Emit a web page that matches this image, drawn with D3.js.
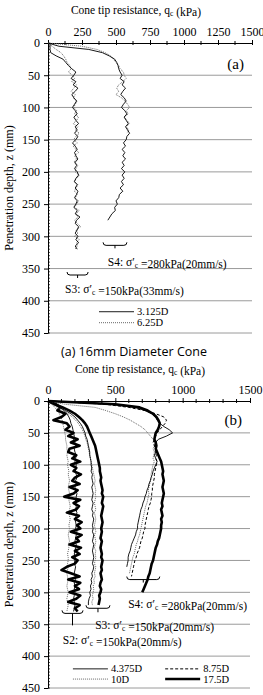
<!DOCTYPE html>
<html>
<head>
<meta charset="utf-8">
<title>Cone tip resistance</title>
<script src="https://cdn.jsdelivr.net/npm/d3@7"></script>
<style>
body { margin: 0; background: #fff; }
text { font-family: "Liberation Serif", "Times New Roman", serif; fill: #000; }
.grid { stroke: #9a9a9a; stroke-width: 1; }
.axis path, .axis line { stroke: #000; }
.axis text { font-family: "Liberation Serif", serif; font-size: 12px; }
.caption { font-family: "Open Sans", "DejaVu Sans", sans-serif; font-size: 12.5px; }
</style>
</head>
<body>
<script>
// ---- data: panel (a) 16mm cone, depth in mm, q_c in kPa
var depthA_S3 = d3.range(0, 325, 5);
var a_S3_3125 = [15,15,15,20,60,110,130,150,175,205,
  190,170,205,185,220,200,175,190,210,195,
  180,200,215,190,205,225,200,215,195,220,
  205,180,200,215,195,205,220,200,210,195,
  215,225,205,195,215,200,220,210,195,215,
  205,190,215,200,235,210,200,225,215,200,
  220,205,225,200,215];
var a_S3_625 = [0,30,60,95,115,130,140,160,170,150,
  180,195,175,210,190,170,200,185,215,200,
  190,210,195,225,210,185,220,200,230,205,
  190,215,185,205,225,195,210,190,220,205,
  200,230,210,190,220,205,195,215,200,225,
  210,195,230,205,220,195,215,240,205,220,
  195,230,210,215,200];
var depthA_S4 = d3.range(0, 280, 5);
var a_S4_3125 = [0,80,300,400,450,490,505,515,520,530,
  545,530,560,545,570,550,535,560,575,555,
  540,565,580,560,575,590,570,585,600,580,
  575,555,570,545,565,550,570,545,560,540,
  565,545,560,540,555,530,550,525,520,500,
  510,490,495,470,455,440];
var depthA_S4d = d3.range(0, 145, 5);
var a_S4_625 = [0,250,360,420,460,480,500,520,530,555,
  560,575,550,520,505,520,500,540,565,585,
  600,575,590,560,580,600,575,595,580];

// ---- data: panel (b)
var depthB_S4_175 = d3.range(0, 305, 5);
var b_S4_175 = [0,500,680,740,780,805,820,830,825,815,
  800,795,790,800,805,800,810,820,830,840,
  845,850,855,850,855,860,855,850,855,860,
  855,850,845,850,840,845,850,840,845,840,
  840,835,830,825,815,810,800,795,790,785,
  780,770,765,760,755,745,740,730,720,710,
  700];
var depthB_S4_4375 = d3.range(0, 265, 5);
var b_S4_4375 = [0,450,650,720,770,800,810,830,860,900,
  925,880,820,800,790,805,800,790,800,810,
  800,790,780,775,765,760,750,745,735,730,
  720,715,705,700,690,685,680,675,670,665,
  665,655,650,640,630,620,615,610,600,595,
  595,590,585];
var depthB_S4_875 = d3.range(0, 280, 5);
var b_S4_875 = [0,420,600,720,800,860,880,870,850,830,
  810,800,790,780,790,800,795,805,800,810,
  805,800,795,790,790,785,780,775,775,770,
  770,765,760,750,745,740,735,730,725,720,
  720,710,705,700,690,685,680,670,660,655,
  645,640,635,630,625,620];
var depthB_S4_10 = d3.range(0, 275, 5);
var b_S4_10 = [0,120,350,430,500,560,610,650,690,720,
  740,760,780,800,790,780,790,785,780,790,
  780,775,770,765,770,760,755,750,745,750,
  745,740,735,725,720,715,710,705,700,695,
  690,685,680,670,665,655,650,645,640,630,
  625,620,615,610,605];
var depthB_S3 = d3.range(0, 325, 5);
var b_S3_175 = [0,50,110,160,200,230,255,275,290,300,
  310,320,330,340,350,355,360,365,370,375,
  380,385,385,390,395,390,395,400,405,400,
  410,405,400,410,405,400,395,400,405,400,
  395,400,395,390,400,395,390,395,400,395,
  405,400,395,400,390,395,400,390,385,395,
  390,380,385,380,375];
var b_S3_4375 = [0,40,90,130,170,200,220,240,255,265,
  275,280,290,295,300,305,310,310,315,320,
  320,325,320,330,325,330,335,325,330,335,
  330,325,335,330,325,335,330,340,335,330,
  335,330,340,335,330,340,335,330,335,340,
  335,330,340,335,325,330,320,325,315,320,
  310,315,305,300,300];
var b_S3_10 = [0,30,70,110,150,180,205,225,240,255,
  265,275,280,290,295,300,305,310,315,320,
  325,330,335,340,345,350,345,350,355,350,
  355,350,345,350,355,345,350,355,350,345,
  350,355,345,350,355,350,345,355,350,355,
  350,345,355,350,345,350,340,345,335,340,
  335,330,335,325,330];
var depthB_S2 = d3.range(0, 335, 5);
var b_S2_175 = [0,60,90,70,130,100,40,140,160,130,
  190,150,220,170,235,160,150,210,180,240,
  170,210,190,245,200,180,235,160,220,190,
  120,240,190,230,210,140,230,200,250,215,
  240,170,250,210,230,160,245,200,235,180,
  220,200,140,100,170,235,150,240,200,230,
  160,240,210,150,235,200,220];
var b_S2_10 = [0,30,50,70,85,95,105,110,115,120,
  125,130,130,135,140,140,145,140,145,150,
  145,150,155,150,155,160,155,150,155,160,
  160,155,160,165,160,155,160,165,160,155,
  160,155,150,155,160,150,155,150,145,150,
  150,145,150,145,140,145,150,145,140,145,
  150,145,140,145,150,145,140];
var b_S2_4375 = [0,50,90,120,140,155,165,170,180,185,
  190,195,190,200,205,195,200,210,205,200,
  210,205,200,210,215,205,210,200,205,215,
  210,205,200,210,205,215,210,200,205,210,
  205,215,210,205,200,210,205,200,195,205,
  200,195,205,200,195,200,205,195,200,195,
  200,195,190,195,200,195,190];

var depthTicks = [0,50,100,150,200,250,300,350,400,450];
var qTicksA = [0,250,500,750,1000,1250,1500];
var qTicksB = [0,500,1000,1500];

// ---- line styles
var styles = {
  solid:  {stroke: "#000", width: 0.9, dash: null},
  dotted: {stroke: "#666", width: 1, dash: "1,1"},
  dashed: {stroke: "#000", width: 1, dash: "3,2"},
  thick:  {stroke: "#000", width: 2.6, dash: null}
};

var svg = d3.select("body").append("svg")
  .attr("width", 263).attr("height", 695);
svg.append("rect").attr("width", 263).attr("height", 695).attr("fill", "#fff");

function subText(g, x, y, parts, size) {
  var t = g.append("text").attr("x", x).attr("y", y).style("font-size", size + "px");
  parts.forEach(function(p) {
    if (p.sub) {
      t.append("tspan").attr("dy", 2).style("font-size", (size * 0.65) + "px").text(p.sub);
      t.append("tspan").attr("dy", -2).text("");
    } else {
      t.append("tspan").text(p.t);
    }
  });
  return t;
}

function drawPanel(cfg) {
  var x = d3.scaleLinear().domain([0, 1500]).range(cfg.xr);
  var y = d3.scaleLinear().domain([0, 450]).range(cfg.yr);
  var g = svg.append("g");

  // title
  subText(g, 0, cfg.titleY, [{t: "Cone tip resistance, q"}, {sub: "c"}, {t: " (kPa)"}], 11.5)
    .attr("x", cfg.titleX).attr("text-anchor", "middle");

  // grid
  g.selectAll(".grid").data(depthTicks.slice(1)).enter().append("line")
    .attr("class", "grid")
    .attr("x1", x(0)).attr("x2", x(1500))
    .attr("y1", function(d) { return y(d); }).attr("y2", function(d) { return y(d); });

  // x axis (top)
  var xa = g.append("g").attr("class", "axis")
    .attr("transform", "translate(0," + y(0) + ")")
    .call(d3.axisTop(x).tickValues(cfg.major).tickFormat(d3.format("d"))
      .tickSize(3).tickSizeOuter(0).tickPadding(4));
  xa.selectAll(".tick line").attr("y2", -3).attr("y1", 2);
  g.selectAll(".minx").data(d3.range(0, 1500, cfg.minorStep).filter(function(v) { return cfg.major.indexOf(v) < 0; }))
    .enter().append("line")
    .attr("x1", function(d) { return x(d); }).attr("x2", function(d) { return x(d); })
    .attr("y1", y(0) - 2).attr("y2", y(0) + 2).attr("stroke", "#000");

  // y axis
  g.append("g").attr("class", "axis")
    .attr("transform", "translate(" + x(0) + ",0)")
    .call(d3.axisLeft(y).tickValues(depthTicks).tickSize(4).tickSizeOuter(0).tickPadding(4));
  g.selectAll(".miny").data(d3.range(0, 451, 5)).enter().append("line")
    .attr("x1", x(0)).attr("x2", x(0) + 2)
    .attr("y1", function(d) { return y(d); }).attr("y2", function(d) { return y(d); })
    .attr("stroke", "#000").attr("stroke-width", 0.7);

  g.append("text")
    .attr("transform", "translate(13," + ((cfg.yr[0] + cfg.yr[1]) / 2) + ") rotate(-90)")
    .attr("text-anchor", "middle").style("font-size", "12px")
    .text("Penetration depth, z (mm)");

  // series
  var line = d3.line().x(function(d) { return x(d[1]); }).y(function(d) { return y(d[0]); });
  cfg.series.forEach(function(s) {
    var st = styles[s.style];
    g.append("path")
      .datum(d3.zip(s.depth, s.values))
      .attr("d", line).attr("fill", "none")
      .attr("stroke", st.stroke).attr("stroke-width", st.width)
      .attr("stroke-dasharray", st.dash)
      .attr("stroke-linejoin", "round");
  });

  // brackets
  cfg.brackets.forEach(function(b) {
    var x1 = x(b.from), x2 = x(b.to), xc = (x1 + x2) / 2, yy = y(b.depth);
    var p = "M" + x1 + "," + (yy - 3) + "Q" + x1 + "," + yy + " " + (x1 + 3) + "," + yy +
      "L" + (x2 - 3) + "," + yy + "Q" + x2 + "," + yy + " " + x2 + "," + (yy - 3) +
      "M" + xc + "," + yy + "L" + xc + "," + (yy + b.tail);
    g.append("path").attr("d", p).attr("fill", "none").attr("stroke", "#000").attr("stroke-width", 1);
  });

  // notes
  cfg.notes.forEach(function(n) {
    subText(g, x(n.q), y(n.depth), [{t: n.name + ": \u03C3\u2032"}, {sub: "c"}, {t: " =" + n.stress + "kPa(" + n.rate + ")"}], 11.5);
  });

  // legend
  cfg.legend.forEach(function(l) {
    var st = styles[l.style];
    g.append("line")
      .attr("x1", x(l.q)).attr("x2", x(l.q) + 35)
      .attr("y1", y(l.depth)).attr("y2", y(l.depth))
      .attr("stroke", st.stroke).attr("stroke-width", st.width)
      .attr("stroke-dasharray", st.dash);
    g.append("text").attr("x", x(l.q) + 38).attr("y", y(l.depth) + 3.5)
      .style("font-size", "10.5px").text(l.label);
  });

  g.append("text").attr("x", x(1500) - 8).attr("y", y(cfg.tagDepth))
    .attr("text-anchor", "end").style("font-size", "15px").text(cfg.tag);
}

drawPanel({
  xr: [48, 252], yr: [43, 333], titleX: 136, titleY: 14, major: qTicksA, minorStep: 125,
  series: [
    {depth: depthA_S3, values: a_S3_625, style: "dotted"},
    {depth: depthA_S3, values: a_S3_3125, style: "solid"},
    {depth: depthA_S4d, values: a_S4_625, style: "dotted"},
    {depth: depthA_S4, values: a_S4_3125, style: "solid"}
  ],
  brackets: [
    {from: 405, to: 580, depth: 314, tail: 3},
    {from: 140, to: 295, depth: 360, tail: 3}
  ],
  notes: [
    {name: "S4", stress: 280, rate: "20mm/s", q: 440, depth: 346},
    {name: "S3", stress: 150, rate: "33mm/s", q: 125, depth: 388}
  ],
  legend: [
    {style: "solid", label: "3.125D", q: 375, depth: 417},
    {style: "dotted", label: "6.25D", q: 375, depth: 434}
  ],
  tag: "(a)", tagDepth: 40
});

svg.append("text").attr("class", "caption")
  .attr("x", 134).attr("y", 356).attr("text-anchor", "middle")
  .text("(a) 16mm Diameter Cone");

drawPanel({
  xr: [48, 250], yr: [401, 688], titleX: 140, titleY: 373, major: qTicksB, minorStep: 100,
  series: [
    {depth: depthB_S2, values: b_S2_10, style: "dotted"},
    {depth: depthB_S2, values: b_S2_4375, style: "solid"},
    {depth: depthB_S2, values: b_S2_175, style: "thick"},
    {depth: depthB_S3, values: b_S3_10, style: "dotted"},
    {depth: depthB_S3, values: b_S3_4375, style: "solid"},
    {depth: depthB_S3, values: b_S3_175, style: "thick"},
    {depth: depthB_S4_10, values: b_S4_10, style: "dotted"},
    {depth: depthB_S4_875, values: b_S4_875, style: "dashed"},
    {depth: depthB_S4_4375, values: b_S4_4375, style: "solid"},
    {depth: depthB_S4_175, values: b_S4_175, style: "thick"}
  ],
  brackets: [
    {from: 585, to: 830, depth: 280, tail: 3},
    {from: 282, to: 460, depth: 325, tail: 4},
    {from: 104, to: 260, depth: 333, tail: 12}
  ],
  notes: [
    {name: "S4", stress: 280, rate: "20mm/s", q: 595, depth: 324},
    {name: "S3", stress: 150, rate: "20mm/s", q: 350, depth: 358},
    {name: "S2", stress: 150, rate: "20mm/s", q: 110, depth: 381}
  ],
  legend: [
    {style: "solid", label: "4.375D", q: 185, depth: 420},
    {style: "dashed", label: "8.75D", q: 870, depth: 420},
    {style: "dotted", label: "10D", q: 185, depth: 436},
    {style: "thick", label: "17.5D", q: 870, depth: 436}
  ],
  tag: "(b)", tagDepth: 37
});
</script>
</body>
</html>
